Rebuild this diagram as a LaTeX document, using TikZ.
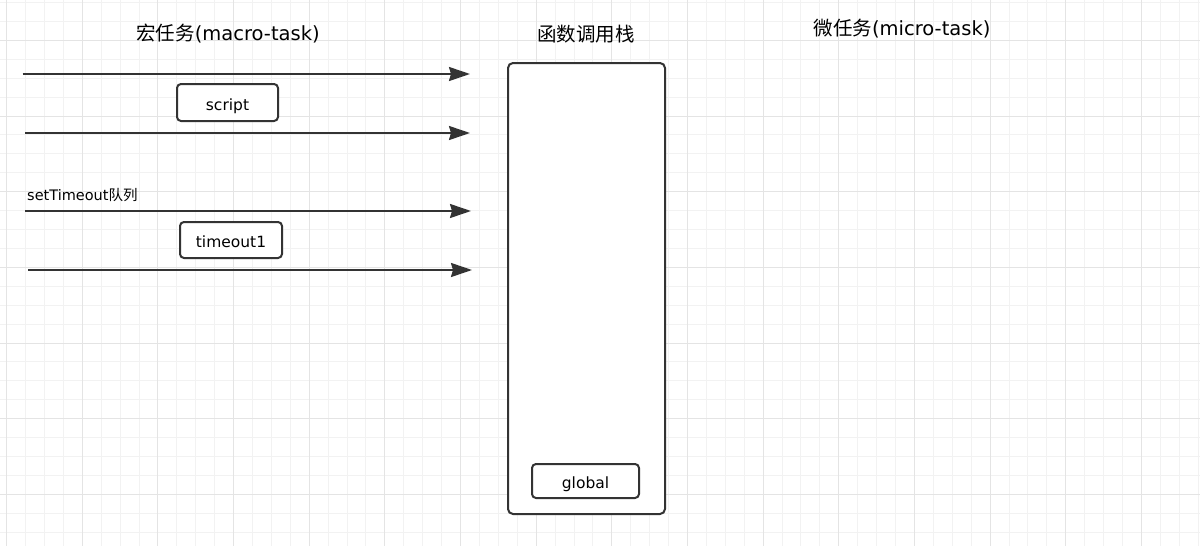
\documentclass[tikz,border=0pt]{standalone}
\usepackage{fontspec}
\setmainfont{DejaVu Sans}
\newfontfamily\cjk{Noto Sans CJK SC}
\usetikzlibrary{arrows.meta}
\definecolor{ink}{HTML}{333333}
\definecolor{gridminor}{HTML}{F2F2F2}
\definecolor{gridmajor}{HTML}{E4E4E4}
\tikzset{
  minorline/.style={draw=gridminor, line width=1pt},
  majorline/.style={draw=gridmajor, line width=1pt},
  queuearrow/.style={draw=ink, line width=2pt, -{Stealth[length=21pt, width=14pt, inset=2pt]}},
  taskbox/.style={draw=ink, line width=2pt, rounded corners=4pt, fill=white, inner sep=0pt, text height=15pt, text depth=0pt, font=\fontsize{15.5}{18}\selectfont},
  stackbox/.style={draw=ink, line width=2pt, rounded corners=5pt, fill=white},
  title/.style={font=\fontsize{19.5}{22}\selectfont, inner sep=0pt, text=black},
  qlabel/.style={font=\fontsize{14.5}{16}\selectfont, inner sep=0pt, anchor=west, text=black}
}
\begin{document}
\begin{tikzpicture}[x=1pt, y=-1pt]
\useasboundingbox (0,0) rectangle (1200,546);
\fill[white] (0,0) rectangle (1200,546);
% grid
\foreach \i in {0,...,63} {
  \draw[minorline] ({6.65+18.9125*\i},0) -- ({6.65+18.9125*\i},546);
}
\foreach \j in {0,...,29} {
  \draw[minorline] (0,{2.6+18.9125*\j}) -- (1200,{2.6+18.9125*\j});
}
\foreach \i in {0,...,15} {
  \draw[majorline] ({6.65+75.65*\i},0) -- ({6.65+75.65*\i},546);
}
\foreach \j in {0,...,7} {
  \draw[majorline] (0,{40.4+75.65*\j}) -- (1200,{40.4+75.65*\j});
}
% titles
\node[title] (tmacro) at (228,34) {{\cjk 宏任务}(macro-task)};
\node[title] (tstack) at (586,34) {\cjk 函数调用栈};
\node[title] (tmicro) at (902,29) {{\cjk 微任务}(micro-task)};
% queue arrows
\coordinate (a1s) at (22.5,74);  \coordinate (a1e) at (470,74);
\coordinate (a2s) at (25,133);   \coordinate (a2e) at (470,133);
\coordinate (a3s) at (25,211);   \coordinate (a3e) at (471,211);
\coordinate (a4s) at (28,270);   \coordinate (a4e) at (472,270);
\draw[queuearrow] (a1s) -- (a1e);
\draw[queuearrow] (a2s) -- (a2e);
\draw[queuearrow] (a3s) -- (a3e);
\draw[queuearrow] (a4s) -- (a4e);
\node[qlabel] (qlab) at (27,195) {setTimeout{\cjk 队列}};
% task boxes
\node[taskbox, minimum width=101pt, minimum height=37pt] (script) at (227.5,102.5) {script};
\node[taskbox, minimum width=102pt, minimum height=36pt] (timeout1) at (231,240) {timeout1};
% call stack
\node[stackbox, minimum width=157pt, minimum height=451pt] (stack) at (586.5,288.5) {};
\node[taskbox, minimum width=107pt, minimum height=34pt] (global) at (585.5,481) {global};
\end{tikzpicture}
\end{document}
